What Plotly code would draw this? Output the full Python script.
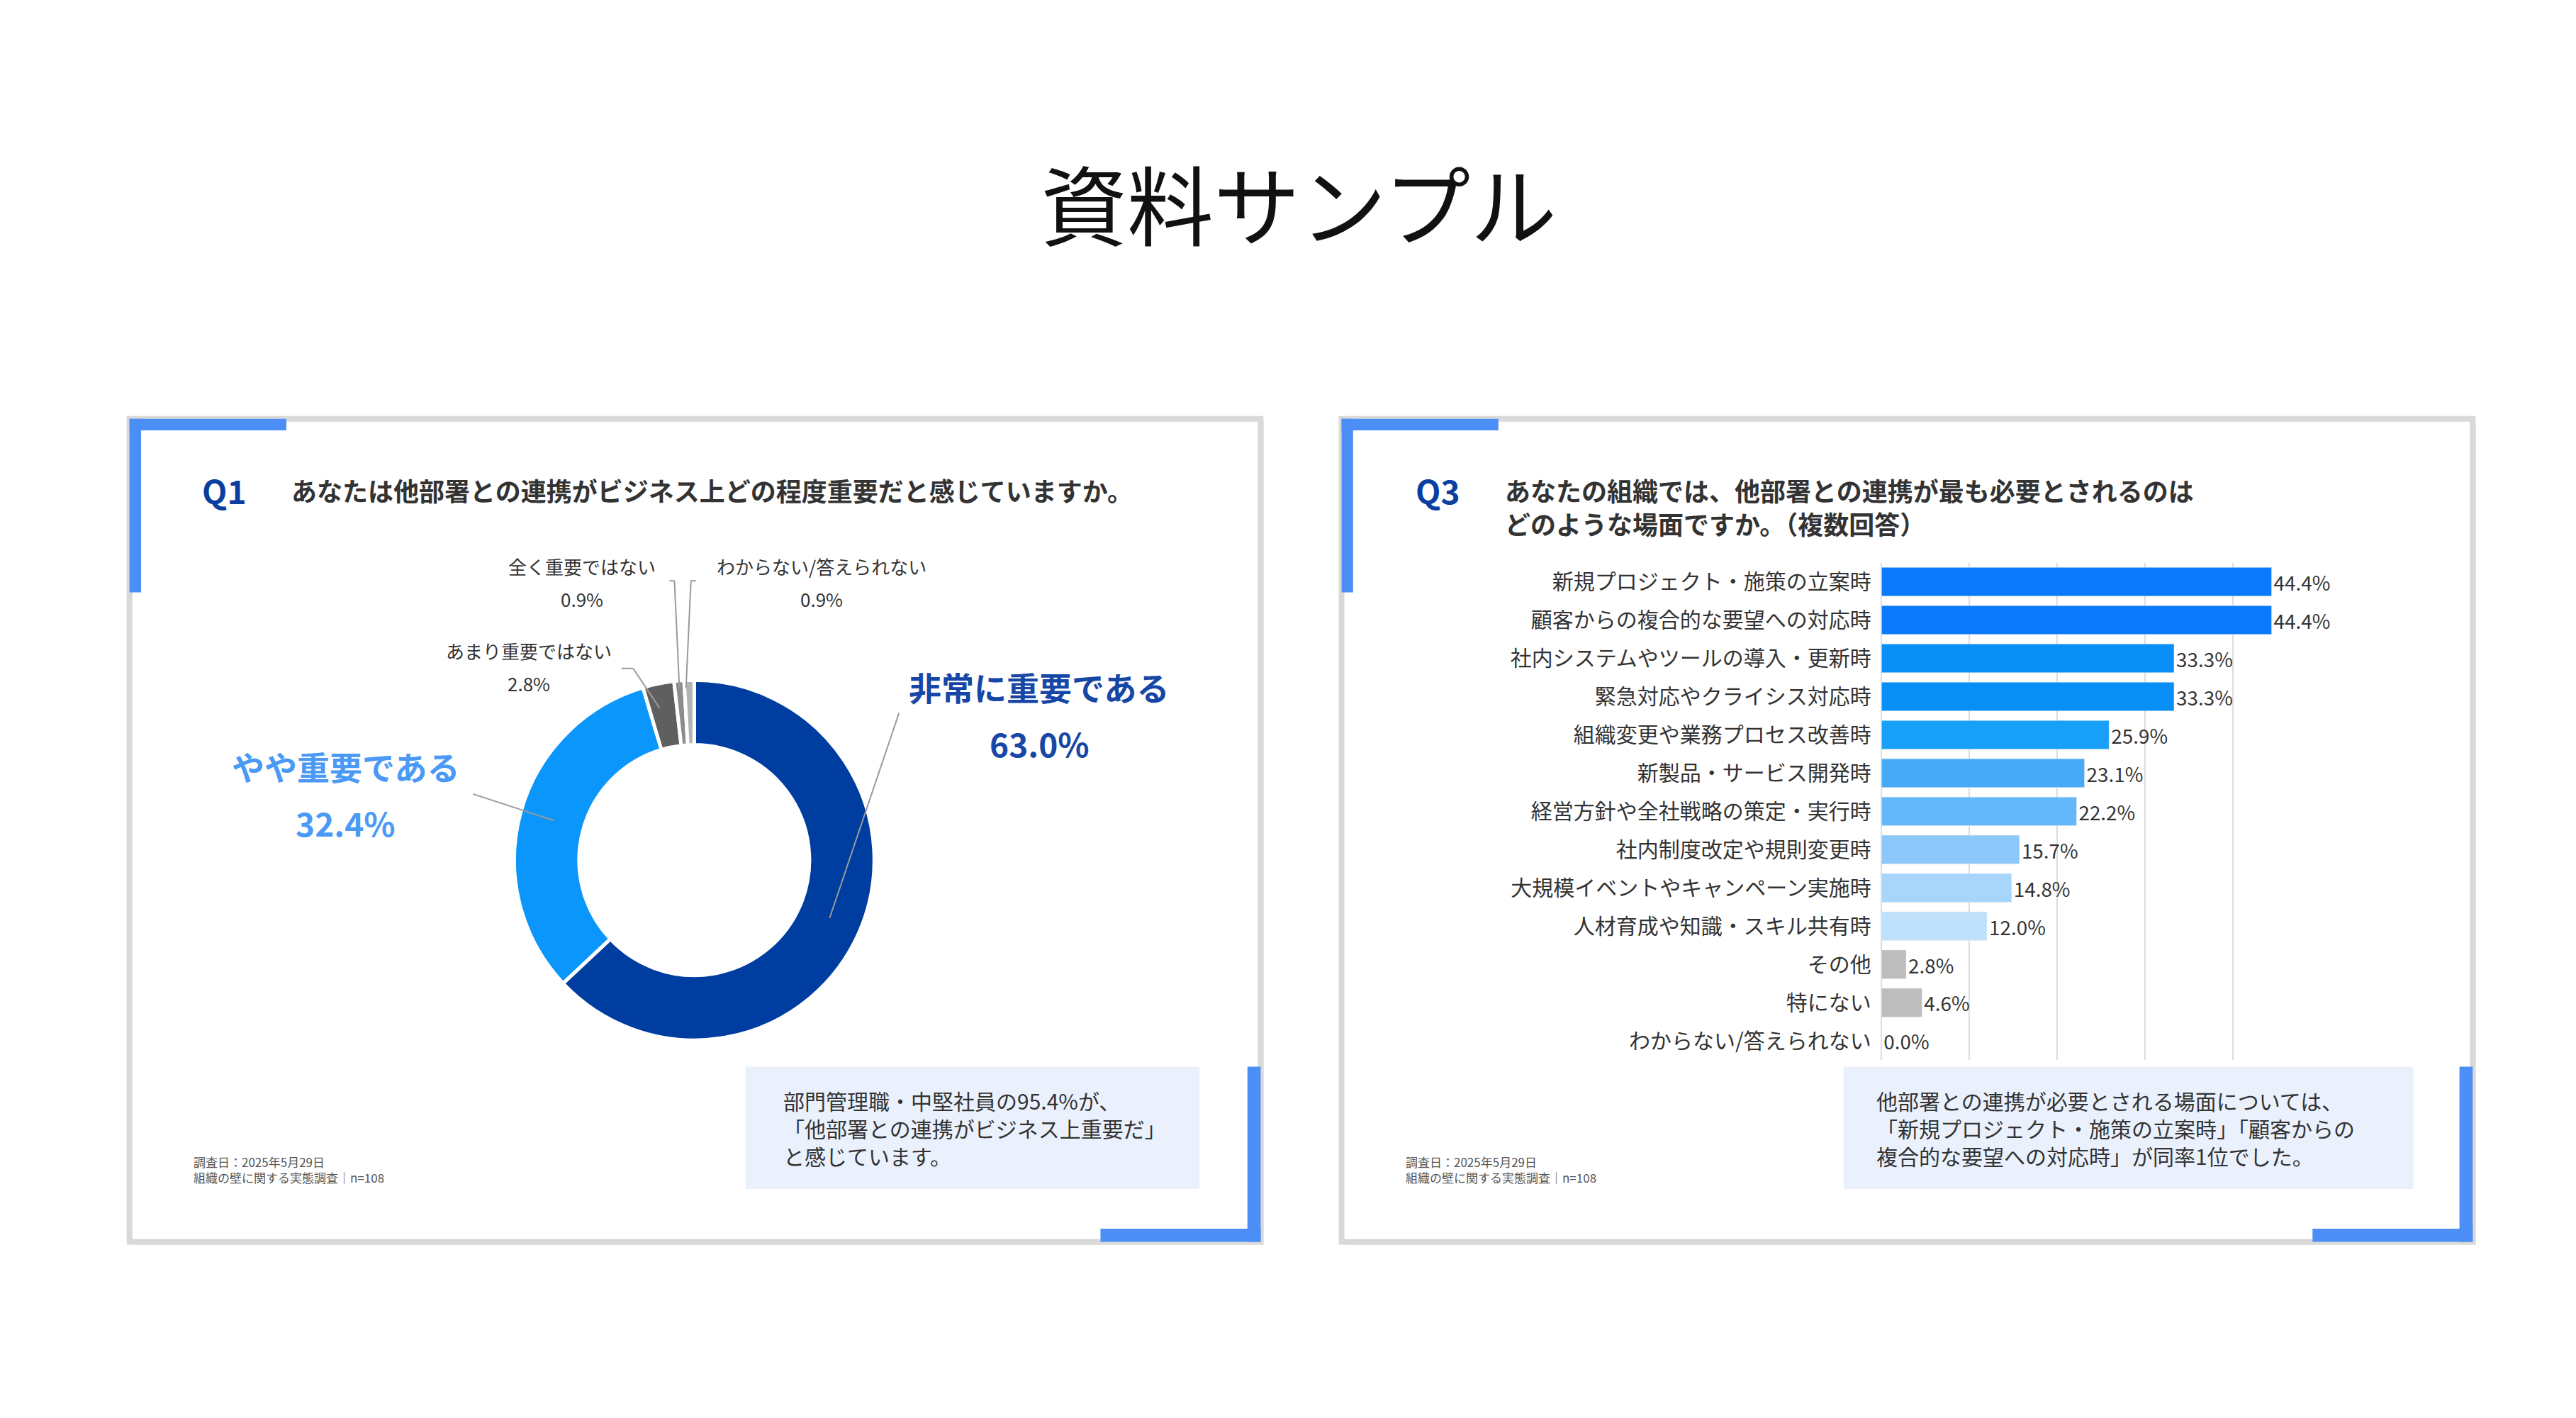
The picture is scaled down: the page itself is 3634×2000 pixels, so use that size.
import plotly.graph_objects as go

q1_labels = ["非常に重要である", "やや重要である", "あまり重要ではない", "全く重要ではない", "わからない/答えられない"]
q1_values = [63.0, 32.4, 2.8, 0.9, 0.9]
q1_colors = ["#003DA0", "#0A96FA", "#5F5F5F", "#8C8C8C", "#B4B4B4"]

q3_labels = ["新規プロジェクト・施策の立案時", "顧客からの複合的な要望への対応時", "社内システムやツールの導入・更新時",
             "緊急対応やクライシス対応時", "組織変更や業務プロセス改善時", "新製品・サービス開発時",
             "経営方針や全社戦略の策定・実行時", "社内制度改定や規則変更時", "大規模イベントやキャンペーン実施時",
             "人材育成や知識・スキル共有時", "その他", "特にない", "わからない/答えられない"]
q3_values = [44.4, 44.4, 33.3, 33.3, 25.9, 23.1, 22.2, 15.7, 14.8, 12.0, 2.8, 4.6, 0.0]
q3_colors = ["#0A7AFA", "#0A7AFA", "#078FF5", "#078FF5", "#18A0F8", "#46AAF6", "#64B7F8", "#8CC8F9",
             "#A8D5FA", "#BFE1FB", "#BDBDBD", "#BDBDBD", "#BDBDBD"]

FONT = "Noto Sans CJK JP"
W, H = 1560.0, 858.0
def px(x): return x / W
def py(y): return 1 - y / H

fig = go.Figure()
fig.add_trace(go.Pie(labels=q1_labels, values=q1_values, hole=0.64, sort=False, direction="clockwise",
                     rotation=0, marker=dict(colors=q1_colors, line=dict(color="white", width=5)),
                     textinfo="none", showlegend=False, hoverinfo="label+value",
                     domain=dict(x=[px(308), px(526)], y=[py(626), py(408)])))
fig.add_trace(go.Bar(y=q3_labels, x=q3_values, orientation="h", marker=dict(color=q3_colors),
                     text=[f"{v:.1f}%" for v in q3_values], textposition="outside", cliponaxis=False,
                     textfont=dict(size=42, color="#333333", family=FONT), showlegend=False))

shapes = []
def rect(x0, y0, x1, y1, fill, line=None, lw=0):
    shapes.append(dict(type="rect", xref="paper", yref="paper", x0=px(x0), x1=px(x1), y0=py(y1), y1=py(y0),
                       fillcolor=fill, line=dict(color=line or fill, width=lw), layer="below"))
def seg(pts, color="#9a9a9a"):
    for (a, b), (c, d) in zip(pts[:-1], pts[1:]):
        shapes.append(dict(type="line", xref="paper", yref="paper", x0=px(a), y0=py(b), x1=px(c), y1=py(d),
                           line=dict(color=color, width=2)))

for L in (75, 809):
    R = L + 685
    rect(L + 2, 252, R + 2, 750, "#ececec")
    rect(L, 250, R, 748, "#FFFFFF", "#D9D9D9", 8)
    rect(L, 250, L + 95, 257, "#4B8EF5")
    rect(L, 250, L + 7, 355, "#4B8EF5")
    rect(R - 8, 642, R, 748, "#4B8EF5")
    rect(R - 97, 740, R, 748, "#4B8EF5")
rect(448, 642, 723, 716, "#EAF1FD")
rect(1113, 642, 1458, 716, "#EAF1FD")

seg([(541, 428), (499, 552)])
seg([(283, 477), (332, 493)])
seg([(373, 401), (380, 401), (396, 425)])
seg([(402, 348), (405, 348), (408, 413)])
seg([(418, 348), (415, 348), (412, 413)])

ann = []
def t(x, y, s, size, color="#333333", anchor="center", bold=False):
    ann.append(dict(x=px(x), y=py(y), xref="paper", yref="paper", text=f"<b>{s}</b>" if bold else s,
                    showarrow=False, xanchor=anchor, yanchor="middle", align="left",
                    font=dict(size=size, color=color, family=FONT)))

t(783, 118, "資料サンプル", 122, "#111111")
t(118, 293, "Q1", 46, "#0A3FA0", "left", True)
t(172, 293, "あなたは他部署との連携がビジネス上どの程度重要だと感じていますか。", 36, "#333333", "left", True)
t(853, 293, "Q3", 46, "#0A3FA0", "left", True)
t(907, 293, "あなたの組織では、他部署との連携が最も必要とされるのは", 36, "#333333", "left", True)
t(907, 313, "どのような場面ですか。（複数回答）", 36, "#333333", "left", True)

t(626, 412, "非常に重要である", 46, "#1747A6", bold=True)
t(626, 446, "63.0%", 46, "#1747A6", bold=True)
t(206, 460, "やや重要である", 46, "#4A9AF5", bold=True)
t(206, 494, "32.4%", 46, "#4A9AF5", bold=True)
t(317, 390, "あまり重要ではない", 26)
t(317, 410, "2.8%", 26)
t(349, 339, "全く重要ではない", 26)
t(349, 359, "0.9%", 26)
t(494, 339, "わからない/答えられない", 26)
t(494, 359, "0.9%", 26)

t(470, 679, "部門管理職・中堅社員の95.4%が、<br>「他部署との連携がビジネス上重要だ」<br>と感じています。", 30, "#333333", "left")
t(1132, 679, "他部署との連携が必要とされる場面については、<br>「新規プロジェクト・施策の立案時」「顧客からの<br>複合的な要望への対応時」が同率1位でした。", 30, "#333333", "left")
for x0 in (113, 847):
    t(x0, 704, "調査日：2025年5月29日<br>組織の壁に関する実態調査｜n=108", 17, "#555555", "left")

fig.update_layout(
    width=3634, height=2000, margin=dict(l=0, r=0, t=0, b=0),
    paper_bgcolor="white", plot_bgcolor="rgba(0,0,0,0)",
    shapes=shapes, annotations=ann, bargap=0.25,
    xaxis=dict(domain=[px(1136), px(1402)], range=[0, 50], dtick=10, showticklabels=False,
               showgrid=True, gridcolor="#DDDDDD", gridwidth=2, zeroline=True, zerolinecolor="#DDDDDD", zerolinewidth=2),
    yaxis=dict(domain=[py(638), py(337)], autorange="reversed", ticks="", ticksuffix="  ",
               tickfont=dict(size=30, color="#333333", family=FONT)),
    font=dict(family=FONT),
)
fig.write_html("out.html")
